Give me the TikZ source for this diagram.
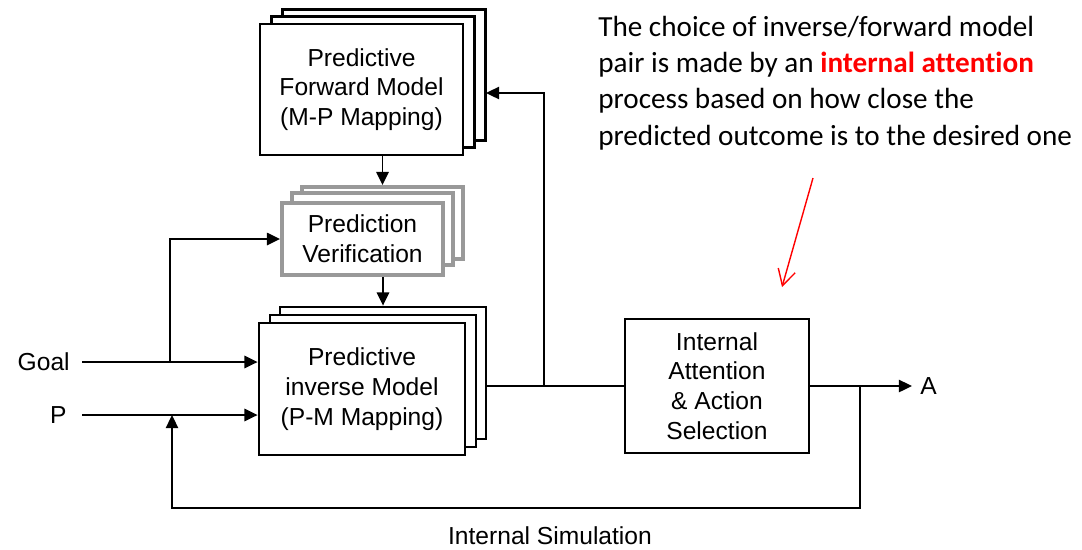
\documentclass[tikz,border=0pt]{standalone}
\usepackage{fontspec}
\setmainfont{Carlito}[Ligatures=NoCommon]
\newfontfamily\diag{Liberation Sans}
\usetikzlibrary{arrows.meta,calc}
\definecolor{vgray}{HTML}{999999}
\definecolor{annred}{HTML}{FF0000}
\begin{document}
\begin{tikzpicture}[x=0.02cm,y=-0.02cm,
  box/.style={draw=black, line width=1.6pt, fill=white, inner sep=0pt, align=center,
    font=\diag\fontsize{14}{17}\selectfont},
  vbox/.style={draw=vgray, line width=2.2pt, fill=white, inner sep=0pt, align=center,
    font=\diag\fontsize{14}{17}\selectfont},
  lbl/.style={font=\diag\fontsize{14}{17}\selectfont, inner sep=0pt},
  conn/.style={line width=1.1pt},
  arr/.style={conn, -{Triangle[length=7.5pt,width=7pt]}},
]
\useasboundingbox (0,0) rectangle (1082,549);

% Forward model stack
\node[box, minimum width=4.06cm, minimum height=2.62cm] (fwd3) at (384,75) {};
\node[box, minimum width=4.06cm, minimum height=2.62cm] (fwd2) at (373,82) {};
\node[box, minimum width=4.06cm, minimum height=2.62cm] (fwd) at (361.5,89.5)
  {Predictive\\Forward Model\\(M-P Mapping)};

% Verification stack
\node[vbox, minimum width=3.22cm, minimum height=1.44cm] (ver3) at (382.5,223) {};
\node[vbox, minimum width=3.22cm, minimum height=1.44cm] (ver2) at (372.5,229) {};
\node[vbox, minimum width=3.22cm, minimum height=1.44cm] (ver) at (362.5,239)
  {Prediction\\Verification};

% Inverse model stack
\node[box, minimum width=4.12cm, minimum height=2.64cm] (inv3) at (383,373) {};
\node[box, minimum width=4.12cm, minimum height=2.64cm] (inv2) at (373,381) {};
\node[box, minimum width=4.12cm, minimum height=2.64cm] (inv) at (362,389)
  {Predictive\\inverse Model\\(P-M Mapping)};

% Attention
\node[box, minimum width=3.68cm, minimum height=2.68cm] (att) at (717,386)
  {Internal\\Attention\\\&~Action\\Selection};

% Labels
\node[lbl, anchor=east, inner xsep=0.24cm] (goal) at (82,362) {Goal};
\node[lbl, anchor=east, inner xsep=0.3cm] (p) at (82,415) {P};
\node[lbl, anchor=west, inner xsep=0.16cm] (a) at (912,386) {A};
\node[lbl] (sim) at (550,536) {Internal Simulation};

% Connectors
\draw[arr] (fwd.south -| ver3.north) -- (ver3.north);
\draw[arr] (ver.south -| inv3.north) -- (inv3.north);
\draw[arr] (goal.east) -- (goal.east -| inv.west);
\draw[arr] (p.east) -- (p.east -| inv.west);
\coordinate (jg) at (170,362);
\draw[arr] (jg) |- (ver.west);
\draw[conn] (inv3.east |- att.west) -- (att.west);
\coordinate (jf) at (544,386);
\coordinate (fin) at (486,93);
\draw[arr] (jf) |- (fin);
\draw[arr] (att.east) -- (att.east -| a.west);
\coordinate (ja) at (860,386);
\coordinate (jp) at (172,415);
\draw[arr] (ja) |- (172,508) -- (jp);

% Annotation
\node[anchor=north west, inner sep=0pt, align=left, font=\fontsize{16.6}{20.6}\selectfont] (note) at (598,16)
  {The choice of inverse/forward model\\pair is made by an \textcolor{annred}{\textbf{internal attention}}\\process based on how close the\\predicted outcome is to the desired one};
\coordinate (rs) at (813,178);
\coordinate (re) at (782,287);
\draw[annred, line width=0.8pt, -{Straight Barb[length=9pt,width=10pt]}] (rs) -- (re);
\end{tikzpicture}
\end{document}
